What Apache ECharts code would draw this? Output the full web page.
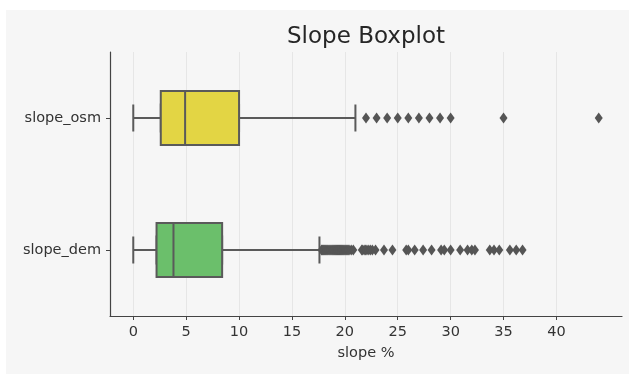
<!DOCTYPE html>
<html>
<head>
<meta charset="utf-8">
<script src="https://cdn.jsdelivr.net/npm/echarts@6/dist/echarts.min.js"></script>
<style>
html,body{margin:0;padding:0;background:#fff;}
#c{width:629px;height:374px;}
</style>
</head>
<body>
<div id="c"></div>
<script>
const categories = ['slope_osm', 'slope_dem'];
// [min(whisker low), Q1, median, Q3, whisker high]
const osmStats = [0, 2.6, 4.9, 10.0, 21.0];
const demStats = [0, 2.2, 3.8, 8.4, 17.6];
const osmOutliers = [22, 23, 24, 25, 26, 27, 28, 29, 30, 35, 44];
const demOutliers = [
  17.8, 17.9, 18.0, 18.1, 18.2, 18.3, 18.4, 18.5, 18.6, 18.7, 18.8, 18.9,
  19.0, 19.1, 19.2, 19.3, 19.4, 19.5, 19.6, 19.7, 19.8, 19.9, 20.0, 20.1,
  20.2, 20.3, 20.4, 20.6, 20.8,
  21.6, 21.7, 21.9, 22.0, 22.2, 22.4, 22.6, 22.9,
  23.7, 24.5, 25.8, 26.0, 26.6, 27.4, 28.2,
  29.1, 29.4, 30.0, 30.9, 31.6, 32.0, 32.3,
  33.7, 34.1, 34.6, 35.6, 36.2, 36.8
];
const xTicks = [0, 5, 10, 15, 20, 25, 30, 35, 40];
const boxColors = ['#e3d544', '#6bbf6b'];

const edge = '#5a5a5a';
const font = 'DejaVu Sans';

const chart = echarts.init(document.getElementById('c'), null, {renderer: 'canvas'});

const boxData = [osmStats, demStats];
const capData = boxData.map(s => [s[0], s[1], s[1], s[3], s[4]]);

const scatterData = [];
osmOutliers.forEach(v => scatterData.push([v, categories[0]]));
demOutliers.forEach(v => scatterData.push([v, categories[1]]));

chart.setOption({
  animation: false,
  backgroundColor: '#ffffff',
  graphic: [{
    type: 'rect', left: 6, top: 10, z: -100,
    shape: {width: 623, height: 364},
    style: {fill: '#f6f6f6'}
  }],
  title: {
    text: 'Slope Boxplot',
    left: 361, top: 21, textAlign: 'center',
    textStyle: {fontFamily: font, fontSize: 23, fontWeight: 'normal', color: '#262626'}
  },
  grid: {left: 110, right: 7, top: 52, bottom: 58, containLabel: false},
  xAxis: {
    type: 'value', min: -2.2, max: 46.2,
    name: 'slope %', nameLocation: 'middle', nameGap: 30,
    nameTextStyle: {fontFamily: font, fontSize: 14.5, color: '#333'},
    axisLine: {show: true, lineStyle: {color: '#444', width: 1.2}},
    axisTick: {show: true, length: 4, customValues: xTicks, lineStyle: {color: '#444'}},
    axisLabel: {customValues: xTicks, fontFamily: font, fontSize: 14.5, color: '#333', margin: 9},
    splitLine: {show: true, lineStyle: {color: '#e6e6e6', width: 1}}
  },
  yAxis: [{
    type: 'category', data: categories, inverse: true,
    axisLine: {show: true, onZero: false, lineStyle: {color: '#444', width: 1.2}},
    axisTick: {show: true, length: 4, alignWithLabel: true, lineStyle: {color: '#444'}},
    axisLabel: {fontFamily: font, fontSize: 14.5, color: '#333', margin: 9},
    splitLine: {show: false}
  }, {
    type: 'category', data: categories, inverse: true, show: false,
    gridIndex: 0
  }],
  series: [{
    type: 'boxplot', name: 'caps', yAxisIndex: 1, z: 2,
    boxWidth: [27, 27],
    itemStyle: {color: '#f6f6f6', borderColor: edge, borderWidth: 2},
    data: capData
  }, {
    type: 'boxplot', name: 'boxes', yAxisIndex: 0, z: 3,
    boxWidth: [54, 54],
    data: boxData.map((s, i) => ({
      value: s.map((v, k) => (k === 0 ? s[1] : (k === 4 ? s[3] : v))),
      itemStyle: {color: boxColors[i], borderColor: edge, borderWidth: 2}
    }))
  }, {
    type: 'scatter', yAxisIndex: 0, z: 4,
    symbol: 'diamond', symbolSize: [8, 11],
    itemStyle: {color: '#555555', opacity: 1},
    data: scatterData
  }]
});
</script>
</body>
</html>
